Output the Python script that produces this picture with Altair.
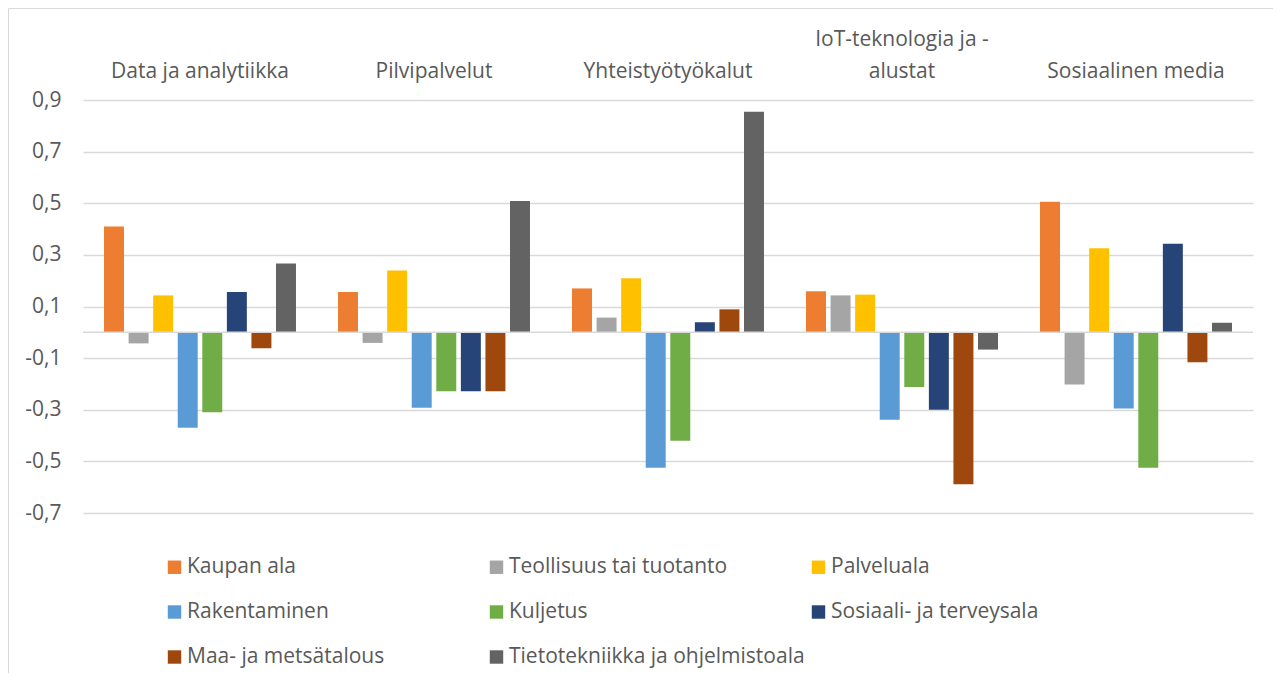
import altair as alt
import pandas as pd

categories = ["Data ja analytiikka", "Pilvipalvelut", "Yhteistyötyökalut",
              "IoT-teknologia ja -alustat", "Sosiaalinen media"]
series = ["Kaupan ala", "Teollisuus tai tuotanto", "Palveluala", "Rakentaminen",
          "Kuljetus", "Sosiaali- ja terveysala", "Maa- ja metsätalous",
          "Tietotekniikka ja ohjelmistoala"]
colors = ["#ED7D31", "#A5A5A5", "#FFC000", "#5B9BD5",
          "#70AD47", "#264478", "#9E480E", "#636363"]

kaupan_ala = [0.410, 0.156, 0.170, 0.159, 0.506]
teollisuus = [-0.043, -0.041, 0.057, 0.143, -0.202]
palveluala = [0.143, 0.239, 0.209, 0.146, 0.326]
rakentaminen = [-0.370, -0.292, -0.525, -0.339, -0.295]
kuljetus = [-0.310, -0.228, -0.420, -0.212, -0.525]
sosiaali = [0.156, -0.228, 0.039, -0.300, 0.343]
maa_metsa = [-0.062, -0.228, 0.089, -0.589, -0.116]
tieto = [0.267, 0.509, 0.854, -0.067, 0.037]

y_ticks = [-0.7, -0.5, -0.3, -0.1, 0.1, 0.3, 0.5, 0.7, 0.9]

all_values = [kaupan_ala, teollisuus, palveluala, rakentaminen,
              kuljetus, sosiaali, maa_metsa, tieto]
rows = []
for s, vals in zip(series, all_values):
    for c, v in zip(categories, vals):
        rows.append({"category": c, "series": s, "value": v})
df = pd.DataFrame(rows)

FONT = "Open Sans"
FS = 21
TXT = "#595959"
GRID = "#d9d9d9"

label_expr = ("datum.label == 'IoT-teknologia ja -alustat' "
              "? ['IoT-teknologia ja -', 'alustat'] : ['', datum.label]")

bars = alt.Chart(df).mark_bar().encode(
    x=alt.X("category:N", sort=categories, title=None,
            scale=alt.Scale(paddingInner=0.16, paddingOuter=0.08),
            axis=alt.Axis(orient="top", ticks=False, tickSize=0, domain=False,
                          grid=False, labelAngle=0, labelFont=FONT,
                          labelFontSize=FS, labelColor=TXT, labelPadding=51,
                          labelLineHeight=32, labelLimit=400,
                          labelExpr=label_expr)),
    xOffset=alt.XOffset("series:N", sort=series,
                        scale=alt.Scale(paddingInner=0.187, paddingOuter=0.0935)),
    y=alt.Y("value:Q", title=None,
            scale=alt.Scale(domain=[-0.7, 0.9], nice=False, zero=False),
            axis=alt.Axis(values=y_ticks, ticks=False, tickSize=0, domain=False,
                          grid=True, gridColor=GRID, gridWidth=1.3,
                          labelFont=FONT, labelFontSize=FS, labelColor=TXT,
                          labelPadding=22,
                          labelExpr="(datum.value < 0 ? '-' : '') + replace(format(abs(datum.value), '.1f'), '.', ',')")),
    color=alt.Color("series:N", sort=series,
                    scale=alt.Scale(domain=series, range=colors),
                    legend=alt.Legend(orient="none", legendX=81, legendY=456.5,
                                      direction="horizontal",
                                      columns=3, title=None, symbolType="square",
                                      symbolSize=180, symbolStrokeWidth=0,
                                      symbolOpacity=1, labelFont=FONT,
                                      labelFontSize=FS, labelColor=TXT,
                                      labelLimit=400, labelOffset=2,
                                      gridAlign="all", columnPadding=3,
                                      rowPadding=23, padding=0)),
)

zero_line = alt.Chart(alt.Data(values=[{"z": 0}])).mark_rule(
    color=GRID, strokeWidth=1.6
).encode(y=alt.datum(0))

frame = alt.Chart(alt.Data(values=[{"f": 1}])).mark_rect(
    filled=False, stroke=GRID, strokeWidth=1
).encode(x=alt.value(-74.5), x2=alt.value(1400), y=alt.value(-91.5), y2=alt.value(800))

chart = alt.layer(frame, bars, zero_line).properties(
    width=1170, height=413,
    padding={"left": 75, "top": 92, "right": 20, "bottom": 160},
    autosize=alt.AutoSizeParams(type="none"),
    background="white",
).configure_view(stroke=None)

chart.save("out.html", embed_options={"renderer": "svg", "actions": False})
